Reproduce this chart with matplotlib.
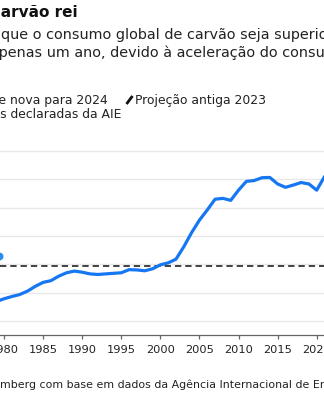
import matplotlib
matplotlib.use("Agg")
import matplotlib.pyplot as plt

# consumo global de carvão, bilhões de toneladas
years = list(range(1979, 2023))
coal = [3.68, 3.78, 3.86, 3.93, 4.05, 4.22, 4.36, 4.42, 4.58, 4.70,
        4.76, 4.72, 4.66, 4.64, 4.66, 4.68, 4.70, 4.81, 4.80, 4.77,
        4.84, 4.98, 5.05, 5.18, 5.62, 6.12, 6.56, 6.92, 7.30, 7.33,
        7.26, 7.62, 7.93, 7.96, 8.06, 8.07, 7.84, 7.72, 7.80, 7.89,
        7.84, 7.62, 8.10, 8.30]
ref_level = 4.95
marker_year, marker_value = 1979.3, 5.31
grid_values = [3, 4, 5, 6, 7, 8, 9]
tick_years = list(range(1980, 2025, 5))

BLUE = "#1677f2"
TXT = "#222222"

W, H = 324, 400
fig = plt.figure(figsize=(W / 100, H / 100), dpi=100)


def fx(x):
    return x / W


def fy(y):
    return 1 - y / H


# eixo principal: base em y=335 px, topo em y=150 px
ax = fig.add_axes([0, fy(335), 1, 185 / H])
ax.set_xlim(1980 - 4 / 7.8175, 1980 + 320 / 7.8175)
ax.set_ylim(2.5, 9.04)

for v in grid_values:
    ax.axhline(v, color="#e8e8e8", lw=1.0, zorder=0)
ax.axhline(ref_level, color="#333333", lw=1.3, ls=(0, (3.5, 2.2)), zorder=1)

ax.plot(years, coal, color=BLUE, lw=2.3, solid_capstyle="round",
        solid_joinstyle="round", zorder=3)
ax.scatter([marker_year], [marker_value], s=22, color="#2a8cf0", zorder=3,
           clip_on=False)

for s in ["left", "right", "top"]:
    ax.spines[s].set_visible(False)
ax.spines["bottom"].set_color("#666666")
ax.spines["bottom"].set_linewidth(0.9)
ax.set_yticks([])
ax.set_xticks(tick_years)
ax.set_xticklabels([str(y) for y in tick_years])
ax.tick_params(axis="x", direction="out", length=3.2, width=0.9,
               color="#666666", labelsize=8.2, labelcolor=TXT, pad=4)

# título, subtítulo, legenda e fonte
fig.text(fx(78), fy(16.7), "Vida longa ao carvão rei", ha="right",
         va="baseline", fontsize=11, fontweight="bold", color="#111111")
fig.text(fx(1), fy(39.3), "que o consumo global de carvão seja superior em 2024",
         ha="left", va="baseline", fontsize=10.4, color=TXT)
fig.text(fx(-10.5), fy(57.5), "apenas um ano, devido à aceleração do consumo na China",
         ha="left", va="baseline", fontsize=10.4, color=TXT)

fig.text(fx(108), fy(104), "Projeção recente e nova para 2024", ha="right",
         va="baseline", fontsize=8.9, color=TXT)
fig.add_artist(plt.Line2D([fx(126.5), fx(132.5)], [fy(104), fy(96)],
                          color="#111111", lw=2.0, solid_capstyle="butt"))
fig.text(fx(135), fy(104), "Projeção antiga 2023", ha="left",
         va="baseline", fontsize=8.9, color=TXT)
fig.text(fx(121), fy(118.3), "Políticas declaradas da AIE", ha="right",
         va="baseline", fontsize=8.9, color=TXT)

fig.text(fx(0), fy(388), "mberg com base em dados da Agência Internacional de Energia",
         ha="left", va="baseline", fontsize=7.9, color=TXT)

fig.savefig("out.png", dpi=100, facecolor="white")
